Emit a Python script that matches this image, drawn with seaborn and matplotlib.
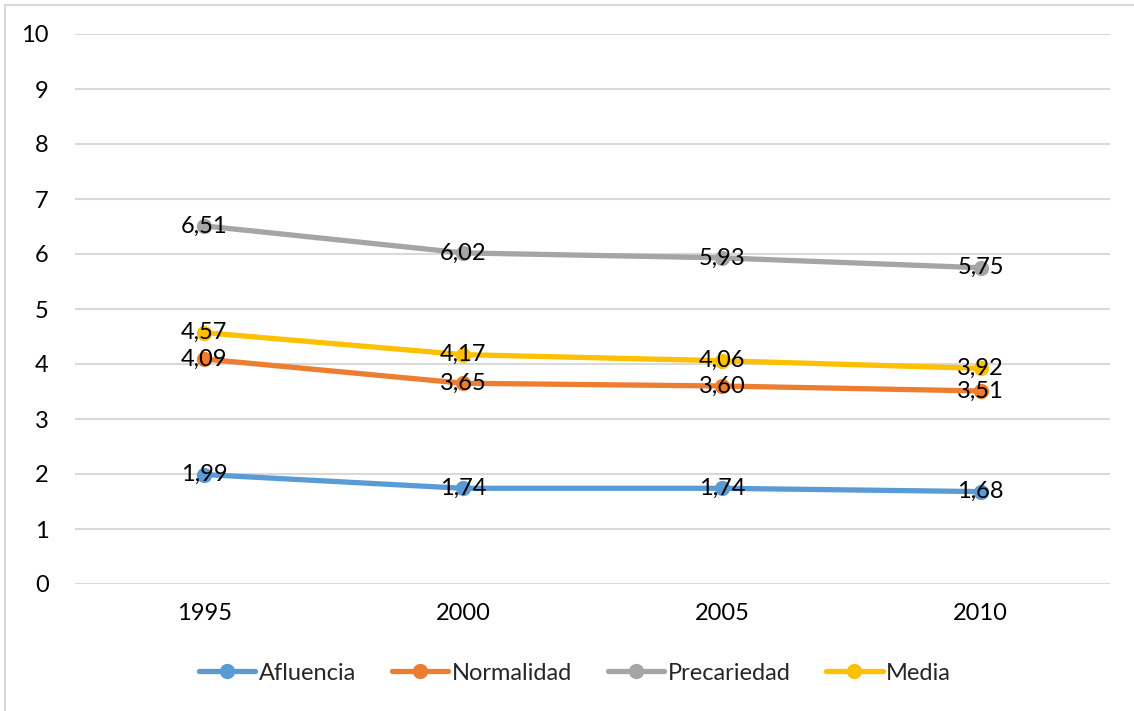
import matplotlib
matplotlib.use("Agg")
import matplotlib.pyplot as plt
import seaborn as sns
import pandas as pd
from matplotlib.patches import Rectangle

years = ["1995", "2000", "2005", "2010"]
series_names = ["Afluencia", "Normalidad", "Precariedad", "Media"]
afluencia = [1.99, 1.74, 1.74, 1.68]
normalidad = [4.09, 3.65, 3.60, 3.51]
precariedad = [6.51, 6.02, 5.93, 5.75]
media = [4.57, 4.17, 4.06, 3.92]
colors = ["#5B9BD5", "#ED7D31", "#A5A5A5", "#FFC000"]
y_ticks = list(range(0, 11))

values = [afluencia, normalidad, precariedad, media]
rows = []
for name, vals in zip(series_names, values):
    for i, (yr, v) in enumerate(zip(years, vals)):
        rows.append({"pos": i, "year": yr, "serie": name, "valor": v})
df = pd.DataFrame(rows)

sns.set_theme(style="white")
plt.rcParams["font.family"] = ["Lato", "DejaVu Sans"]
FS = 17

fig = plt.figure(figsize=(11.34, 7.11), dpi=100)
ax = fig.add_axes([75 / 1134, 1 - 584 / 711, 1035 / 1134, 550 / 711])

# outer chart frame
fig.patches.append(Rectangle((5 / 1134, -0.01), 1.1, 1 - 5 / 711 + 0.01,
                             transform=fig.transFigure, fill=False,
                             edgecolor="#D9D9D9", linewidth=1.5, zorder=0))

for yv in y_ticks:
    ax.axhline(yv, color="#D9D9D9", linewidth=1.5, zorder=0)

sns.lineplot(data=df, x="pos", y="valor", hue="serie", hue_order=series_names,
             palette=colors, marker="o", markersize=11, markeredgewidth=0,
             linewidth=3.8, ax=ax, legend=True, zorder=3)

for vals in values:
    for i, v in enumerate(vals):
        ax.text(i, v, f"{v:.2f}".replace(".", ","), ha="center", va="center",
                fontsize=FS, color="#000000", zorder=5)

ax.set_xlim(-0.5, 3.5)
ax.set_ylim(0, 10)
ax.set_xticks(range(len(years)))
ax.set_xticklabels(years)
ax.set_yticks(y_ticks)
ax.set_yticklabels([str(t) for t in y_ticks])
ax.tick_params(axis="both", labelsize=FS, colors="#000000", length=0)
ax.tick_params(axis="y", pad=19)
ax.tick_params(axis="x", pad=14)
ax.set_xlabel("")
ax.set_ylabel("")
for s in ax.spines.values():
    s.set_visible(False)

handles, labels = ax.get_legend_handles_labels()
ax.legend(handles, labels, loc="center", bbox_to_anchor=(575 / 1134, 1 - 673 / 711),
          bbox_transform=fig.transFigure, ncol=4, frameon=False, fontsize=FS,
          handlelength=2.4, handletextpad=0.15, columnspacing=1.5)

fig.savefig("out.png", dpi=100)
